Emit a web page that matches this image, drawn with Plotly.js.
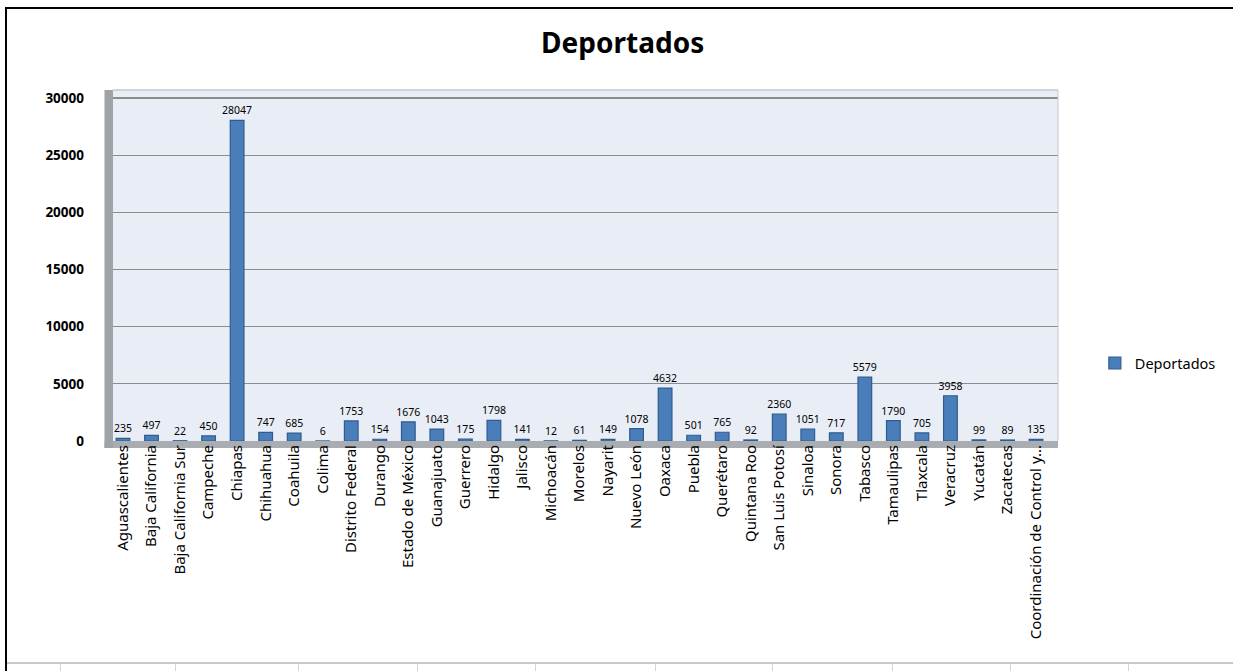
<!DOCTYPE html>
<html>
<head>
<meta charset="utf-8">
<script src="https://cdn.plot.ly/plotly-3.0.1.min.js"></script>
<style>
  html, body { margin: 0; padding: 0; background: #ffffff; }
  #wrap { position: relative; width: 1233px; height: 671px; overflow: hidden; background: #fff; }
  #frameTop { position: absolute; left: 5px; top: 7px; width: 1228px; height: 2px; background: #000; }
  #frameLeft { position: absolute; left: 5px; top: 7px; width: 2px; height: 664px; background: #000; }
  #bottomLine { position: absolute; left: 7px; top: 662px; width: 1226px; height: 2px; background: #c8c8c8; }
  #chart { position: absolute; left: 0; top: 0; width: 1233px; height: 671px; }
  .cell { position: absolute; top: 664px; width: 1px; height: 7px; background: #d4d4d4; }
</style>
</head>
<body>
<div id="wrap">
  <div id="chart"></div>
  <div id="frameTop"></div>
  <div id="frameLeft"></div>
  <div id="bottomLine"></div>
</div>
<script>
const categories = ["Aguascalientes","Baja California","Baja California Sur","Campeche","Chiapas","Chihuahua","Coahuila","Colima","Distrito Federal","Durango","Estado de México","Guanajuato","Guerrero","Hidalgo","Jalisco","Michoacán","Morelos","Nayarit","Nuevo León","Oaxaca","Puebla","Querétaro","Quintana Roo","San Luis Potosí","Sinaloa","Sonora","Tabasco","Tamaulipas","Tlaxcala","Veracruz","Yucatán","Zacatecas","Coordinación de Control y..."];
const deportados = [235,497,22,450,28047,747,685,6,1753,154,1676,1043,175,1798,141,12,61,149,1078,4632,501,765,92,2360,1051,717,5579,1790,705,3958,99,89,135];
const seriesName = "Deportados";
const yTicks = [0,5000,10000,15000,20000,25000,30000];

const cellXs = [60,175,298,417,535,655,772,892,1010,1128];
const wrap = document.getElementById('wrap');
cellXs.forEach(x => { const d = document.createElement('div'); d.className = 'cell'; d.style.left = x + 'px'; wrap.appendChild(d); });

const trace = {
  type: 'bar',
  x: categories,
  y: deportados,
  name: seriesName,
  marker: { color: '#4a7ebb', line: { color: '#2f5c8f', width: 1.2 } },
  text: deportados.map(String),
  textposition: 'outside',
  constraintext: 'none',
  cliponaxis: false,
  textfont: { family: 'Noto Sans, sans-serif', size: 10.5, color: '#000' },
  showlegend: true
};

const layout = {
  width: 1233, height: 671,
  paper_bgcolor: 'rgba(0,0,0,0)',
  plot_bgcolor: '#e9edf5',
  margin: { l: 113, r: 171, t: 90, b: 230 },
  title: { text: '<b>Deportados</b>', x: 0.505, xanchor: 'center', y: 0.935, yanchor: 'middle',
           font: { family: 'Noto Sans, sans-serif', size: 28, color: '#000' } },
  bargap: 0.52,
  xaxis: {
    type: 'category',
    tickangle: -90,
    tickfont: { family: 'Noto Sans, sans-serif', size: 15, color: '#000' },
    showgrid: false, zeroline: false, showline: false,
    ticks: '', ticklen: 0,
    automargin: false,
    range: [-0.35, 32.77]
  },
  yaxis: {
    range: [0, 30700],
    tickvals: yTicks,
    ticktext: yTicks.map(String),
    tickfont: { family: 'Noto Sans, sans-serif', size: 13.5, color: '#000', weight: 'bold' },
    showgrid: true, gridcolor: '#8c8c8c', gridwidth: 1.2,
    zeroline: false, showline: false,
    ticks: '', ticklen: 0,
    ticklabelstandoff: 28,
    automargin: false
  },
  legend: {
    x: 1.039, xanchor: 'left', y: 0.222, yanchor: 'middle',
    font: { family: 'Noto Sans, sans-serif', size: 14.5, color: '#000' },
    bgcolor: 'rgba(0,0,0,0)', itemwidth: 30
  },
  shapes: [
    { type: 'rect', xref: 'paper', yref: 'paper', x0: -0.009, x1: 0, y0: -0.02, y1: 1.0,
      fillcolor: '#9fa3a8', line: { width: 0 }, layer: 'above' },
    { type: 'rect', xref: 'paper', yref: 'paper', x0: -0.009, x1: 1.0, y0: -0.02, y1: 0.0,
      fillcolor: '#a9adb2', line: { width: 0 }, layer: 'below' },
    { type: 'line', xref: 'paper', yref: 'paper', x0: 0, x1: 1, y0: 1, y1: 1,
      line: { color: '#c4c7cc', width: 1.5 } },
    { type: 'line', xref: 'paper', yref: 'paper', x0: 1, x1: 1, y0: 0, y1: 1,
      line: { color: '#c4c7cc', width: 1 } }
  ]
};

Plotly.newPlot('chart', [trace], layout, { staticPlot: true, displayModeBar: false });
</script>
</body>
</html>
